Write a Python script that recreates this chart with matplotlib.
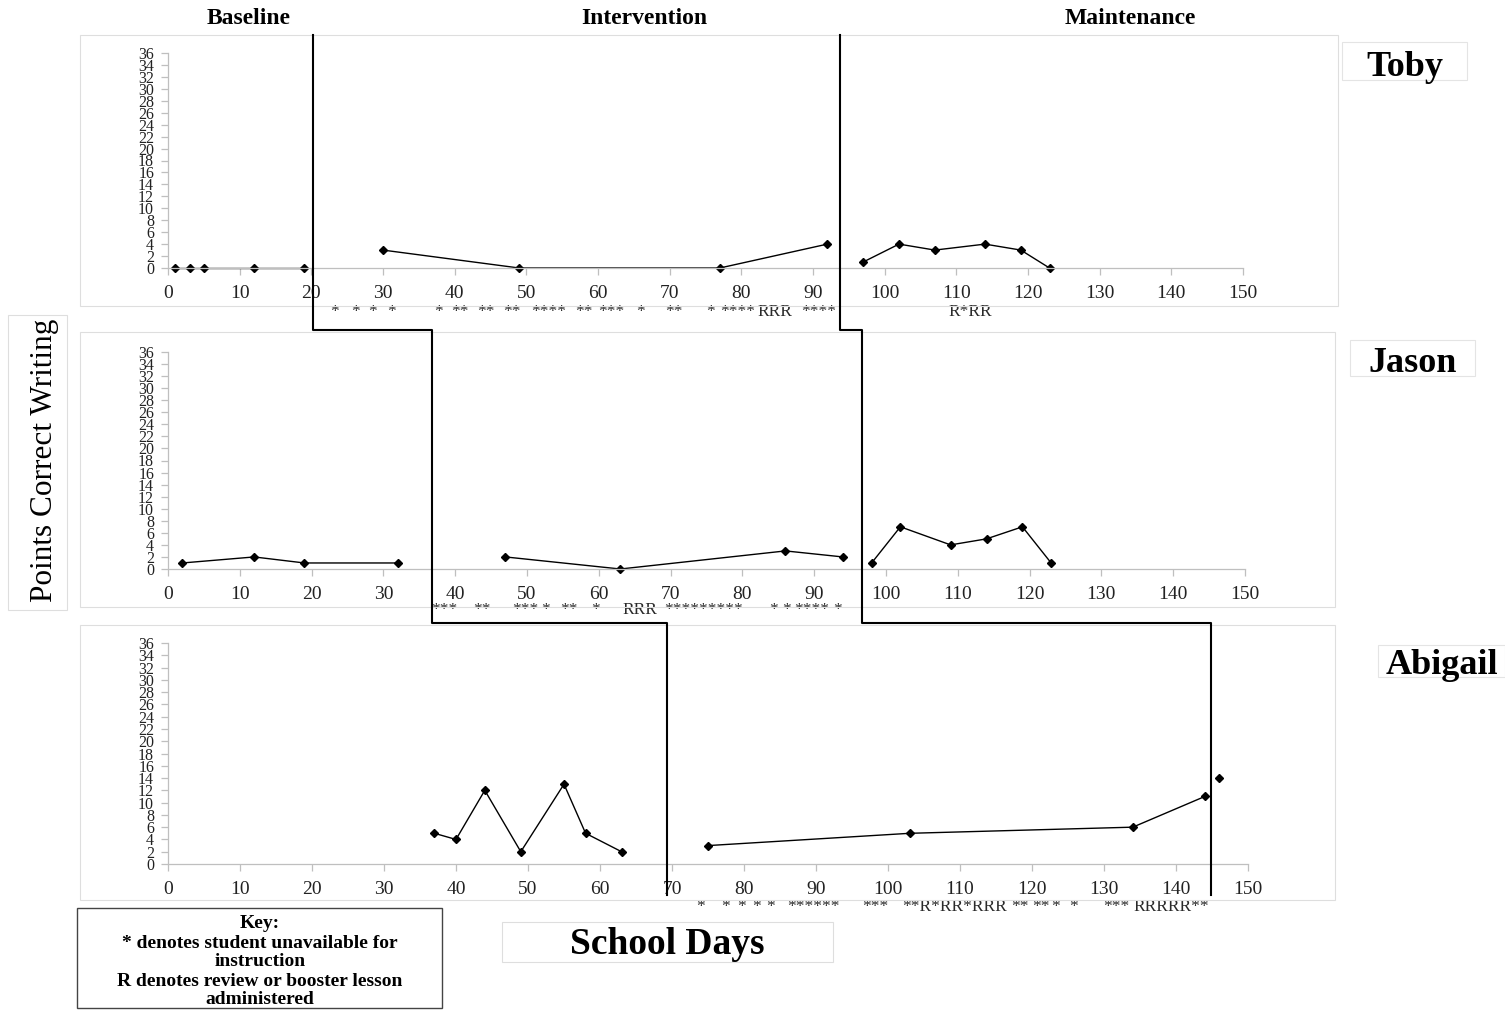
import matplotlib
matplotlib.use("Agg")
import matplotlib.pyplot as plt
import matplotlib.transforms as mtransforms
from matplotlib.patches import Rectangle
from matplotlib.lines import Line2D
import numpy as np

plt.rcParams['font.family'] = ['Liberation Serif', 'DejaVu Serif']

# ---- data ----
students = ['Toby', 'Jason', 'Abigail']
phases = ['Baseline', 'Intervention', 'Maintenance']

toby_base_x = [1, 3, 5, 12, 19]
toby_base_y = [0, 0, 0, 0, 0]
toby_int_x = [30, 49, 77, 92]
toby_int_y = [3, 0, 0, 4]
toby_maint_x = [97, 102, 107, 114, 119, 123]
toby_maint_y = [1, 4, 3, 4, 3, 0]

jason_base_x = [2, 12, 19, 32]
jason_base_y = [1, 2, 1, 1]
jason_int_x = [47, 63, 86, 94]
jason_int_y = [2, 0, 3, 2]
jason_maint_x = [98, 102, 109, 114, 119, 123]
jason_maint_y = [1, 7, 4, 5, 7, 1]

abigail_base_x = [37, 40, 44, 49, 55, 58, 63]
abigail_base_y = [5, 4, 12, 2, 13, 5, 2]
abigail_int_x = [75, 103, 134, 144]
abigail_int_y = [3, 5, 6, 11]
abigail_maint_x = [146]
abigail_maint_y = [14]

# day where each phase change line crosses the axis
phase1_day = [20.3, 36.8, 69.3]
phase2_day = [93.8, 96.7, 144.9]

# * = unavailable, R = review/booster  (day, marks)
toby_notes = [(23.2, '*'), (26.1, '*'), (28.6, '*'), (31.2, '*'), (37.8, '*'),
              (40.7, '**'), (44.4, '**'), (48, '**'), (53.1, '****'), (58.1, '**'),
              (61.8, '***'), (66, '*'), (70.6, '**'), (75.7, '*'), (79.5, '****'),
              (84.7, 'RRR'), (90.8, '****'), (111.9, 'R*RR')]
jason_notes = [(38.5, '***'), (43.7, '**'), (49.7, '***'), (52.6, '*'), (55.9, '**'),
               (59.6, '*'), (65.7, 'RRR'), (74.6, '*********'), (84.4, '*'),
               (86.1, '*'), (89.7, '****'), (93.3, '*')]
abigail_notes = [(73.9, '*'), (77.5, '*'), (79.7, '*'), (81.8, '*'), (83.7, '*'),
                 (89.6, '******'), (98.2, '***'), (109.3, '**R*RR*RRR'), (118.3, '**'),
                 (121.2, '**'), (123.2, '*'), (125.7, '*'), (131.7, '***'),
                 (139.4, 'RRRRR**')]

series = [
    [(toby_base_x, toby_base_y), (toby_int_x, toby_int_y), (toby_maint_x, toby_maint_y)],
    [(jason_base_x, jason_base_y), (jason_int_x, jason_int_y), (jason_maint_x, jason_maint_y)],
    [(abigail_base_x, abigail_base_y), (abigail_int_x, abigail_int_y),
     (abigail_maint_x, abigail_maint_y)],
]
notes = [toby_notes, jason_notes, abigail_notes]

# ---- layout (pixels) ----
W, H = 1505, 1010
fig = plt.figure(figsize=(W / 100, H / 100), dpi=100)


def fx(px):
    return px / W


def fy(py):
    return 1 - py / H


panel_px = [(168, 1243, 53, 268), (168, 1245, 352, 569), (168, 1248, 643, 864)]
frame_px = [(80, 35, 1338, 306), (80, 332, 1335, 607), (80, 625, 1335, 900)]
note_row_px = [312, 610, 907]
name_box_px = [(1342, 42, 1467, 80), (1350, 340, 1475, 376), (1378, 645, 1505, 677)]
name_y_px = [67, 363, 665]
grey = '#bfbfbf'

axes = []
for i, (l, r, t, b) in enumerate(panel_px):
    fx0, fy0, fx1, fy1 = frame_px[i]
    fig.add_artist(Rectangle((fx(fx0), fy(fy1)), fx(fx1) - fx(fx0), fy(fy0) - fy(fy1),
                             transform=fig.transFigure, fill=False,
                             edgecolor='#dedede', lw=0.8))
    ax = fig.add_axes([fx(l), fy(b), fx(r) - fx(l), fy(t) - fy(b)])
    ax.patch.set_alpha(0)
    ax.set_xlim(0, 150)
    ax.set_ylim(0, 36)
    ax.set_xticks(range(0, 151, 10))
    ax.set_yticks(range(0, 37, 2))
    for s in ['top', 'right']:
        ax.spines[s].set_visible(False)
    for s in ['left', 'bottom']:
        ax.spines[s].set_color(grey)
        ax.spines[s].set_linewidth(0.9)
    ax.tick_params(axis='both', colors=grey, labelcolor='#222222', direction='out',
                   length=5, width=0.9)
    ax.tick_params(axis='x', labelsize=14, pad=7)
    ax.tick_params(axis='y', labelsize=11.5, pad=5)
    for xs, ys in series[i]:
        ax.plot(xs, ys, '-D', color='black', ms=4, lw=1, clip_on=False)
    trans = mtransforms.blended_transform_factory(ax.transData, fig.transFigure)
    for day, txt in notes[i]:
        ax.text(day, fy(note_row_px[i]), txt, transform=trans, ha='center',
                va='center', fontsize=12.5, color='#2a2a2a')
    bx0, by0, bx1, by1 = name_box_px[i]
    fig.add_artist(Rectangle((fx(bx0), fy(by1)), fx(bx1) - fx(bx0), fy(by0) - fy(by1),
                             transform=fig.transFigure, fill=False,
                             edgecolor='#e4e4e4', lw=0.8))
    fig.text(fx((bx0 + bx1) / 2), fy(name_y_px[i]), students[i],
             ha='center', va='center', fontsize=26, fontweight='bold')
    axes.append(ax)


def figx(ax, day):
    return fig.transFigure.inverted().transform(ax.transData.transform((day, 0)))[0]


# phase change lines, stepping down through the three panels
line_y = [fy(35), fy(330), fy(330), fy(623), fy(623), fy(895)]
for days in [phase1_day, phase2_day]:
    xs = []
    for ax, d in zip(axes, days):
        xs += [figx(ax, d), figx(ax, d)]
    fig.add_artist(Line2D(xs, line_y, transform=fig.transFigure, color='black', lw=1.5))

# phase headings
for name, px in zip(phases, [249, 644, 1130]):
    fig.text(fx(px), fy(18), name, ha='center', va='center', fontsize=17,
             fontweight='bold')

# y-axis title box
fig.add_artist(Rectangle((fx(8), fy(610)), fx(67) - fx(8), fy(315) - fy(610),
                         transform=fig.transFigure, fill=False, edgecolor='#dedede', lw=0.8))
fig.text(fx(45), fy(460), 'Points Correct Writing', rotation=90, ha='center',
         va='center', fontsize=22.5)

# x-axis title box
fig.add_artist(Rectangle((fx(502), fy(962)), fx(833) - fx(502), fy(922) - fy(962),
                         transform=fig.transFigure, fill=False, edgecolor='#dedede', lw=0.8))
fig.text(fx(667), fy(945), 'School Days', ha='center', va='center', fontsize=27,
         fontweight='bold')

# key
fig.add_artist(Rectangle((fx(77), fy(1008)), fx(442) - fx(77), fy(908) - fy(1008),
                         transform=fig.transFigure, fill=False, edgecolor='#444444', lw=1))
key_lines = ['Key:', '* denotes student unavailable for', 'instruction',
             'R denotes review or booster lesson', 'administered']
for txt, py in zip(key_lines, [924, 943, 962, 981, 1000]):
    fig.text(fx(260), fy(py), txt, ha='center', va='center', fontsize=14,
             fontweight='bold')

fig.savefig('out.png', dpi=100)
